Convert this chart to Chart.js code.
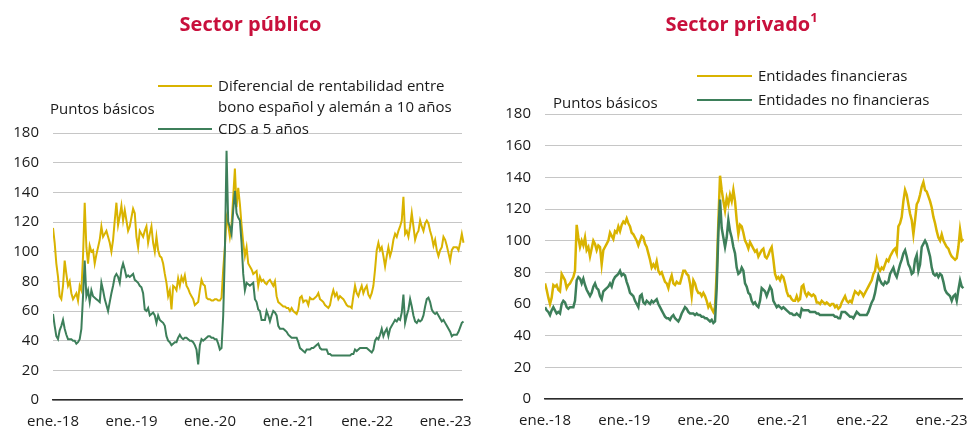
<!DOCTYPE html>
<html lang="es">
<head>
  <meta charset="UTF-8">
  <title>Sector público / Sector privado</title>
  <script src="https://cdn.jsdelivr.net/npm/chart.js"></script>
  <style>
    html, body {
      margin: 0; padding: 0;
      width: 970px; height: 428px;
      background: #fff; overflow: hidden;
      font-family: "Open Sans", sans-serif; color: #1a1a1a;
    }
    .panel { position: absolute; top: 0; width: 485px; height: 428px; }
    .panel canvas { position: absolute; left: 0; top: 0; }
    .title {
      position: absolute; top: 10px; width: 485px; text-align: center;
      font-size: 20px; font-weight: 700; color: #c8103c; line-height: 28px;
    }
    .title sup { font-size: 13px; line-height: 0; vertical-align: 9px; }
    .txt { position: absolute; font-size: 15px; line-height: 21px; white-space: nowrap; }
    .swatch { position: absolute; height: 2px; }
  </style>
</head>
<body>
  <!-- Sector público -->
  <div class="panel" style="left:0">
    <canvas id="chartPub" width="485" height="428"></canvas>
    <div class="title" style="left:8px">Sector público</div>
    <div class="txt" style="left:50px; top:98px">Puntos básicos</div>
    <div class="swatch" style="left:158px; top:85px; width:54px; background:#d9b300"></div>
    <div class="txt" style="left:218px; top:75px">Diferencial de rentabilidad entre<br>bono español y alemán a 10 años</div>
    <div class="swatch" style="left:158px; top:128px; width:54px; background:#3d7f5a"></div>
    <div class="txt" style="left:218px; top:118px">CDS a 5 años</div>
  </div>

  <!-- Sector privado -->
  <div class="panel" style="left:485px">
    <canvas id="chartPriv" width="485" height="428"></canvas>
    <div class="title" style="left:14px">Sector privado<sup>1</sup></div>
    <div class="txt" style="left:68px; top:92px">Puntos básicos</div>
    <div class="swatch" style="left:212px; top:75px; width:55px; background:#d9b300"></div>
    <div class="txt" style="left:273px; top:65px">Entidades financieras</div>
    <div class="swatch" style="left:212px; top:99px; width:55px; background:#3d7f5a"></div>
    <div class="txt" style="left:273px; top:89px">Entidades no financieras</div>
  </div>

  <script>
    // x ticks: 1 January of each year, counted in days from 1 Jan 2018
    const tickLabels = ['ene.-18', 'ene.-19', 'ene.-20', 'ene.-21', 'ene.-22', 'ene.-23'];
    const tickDays = [0, 365, 730, 1096, 1461, 1826];
    const yTicks = [0, 20, 40, 60, 80, 100, 120, 140, 160, 180];

    // Sector público: values read roughly every 7.76 days from 1 Jan 2018
    const pubStepDays = 7.76;
    const pubSpread = [
      116,106,92,83,70,68,77,94,85,77,
      80,72,68,70,72,67,77,74,97,133,
      103,92,104,100,101,92,98,103,108,117,
      110,112,114,110,106,100,108,121,133,118,
      124,131,121,128,121,114,117,123,129,126,
      110,103,114,112,110,114,117,106,112,117,
      106,100,110,101,97,96,92,85,79,70,
      74,61,77,76,74,82,77,83,80,84,
      77,75,72,70,68,64,65,66,74,81,
      78,77,69,68,68,67,67,68,68,67,
      67,69,88,103,123,118,110,118,137,156,
      130,143,132,118,106,97,103,92,90,88,
      85,86,87,77,83,80,81,79,78,80,
      81,79,77,80,70,66,65,64,63,63,
      62,62,60,62,60,59,58,61,69,70,
      66,67,67,64,69,68,68,69,70,72,
      68,67,66,64,63,62,64,70,74,70,
      72,68,70,69,68,66,64,63,63,62,
      70,77,72,70,74,77,72,75,77,71,
      69,72,77,88,101,106,101,103,97,90,
      97,103,97,101,108,112,110,114,117,121,
      137,112,114,110,117,126,117,108,112,114,
      121,117,114,119,121,119,114,110,104,108,
      101,97,101,103,110,108,104,99,94,101,
      103,103,103,101,106,112,106,104
    ];
    const pubCds = [
      58,50,43,41,47,50,54,48,44,41,
      41,41,40,40,38,39,41,48,70,94,
      70,74,66,74,70,69,68,67,66,79,
      74,68,64,60,66,72,77,83,85,83,
      79,88,92,88,83,84,83,84,85,81,
      80,79,77,76,72,61,60,62,57,58,
      59,57,52,57,54,53,52,50,43,40,
      39,37,38,39,39,42,44,42,41,42,
      42,41,40,40,39,37,34,24,37,41,
      40,41,42,43,43,42,42,41,41,38,
      34,35,57,100,168,120,117,112,128,141,
      126,123,121,106,85,74,79,78,77,78,
      79,68,66,61,60,54,54,54,60,57,
      53,57,60,59,57,50,48,48,48,47,
      46,44,43,42,42,42,42,39,35,34,
      33,32,34,34,34,35,35,36,37,38,
      35,34,34,34,34,31,31,30,30,30,
      30,30,30,30,30,30,30,30,30,31,
      31,34,33,34,35,35,35,35,35,34,
      33,32,34,40,42,41,44,48,43,46,
      48,43,48,50,52,54,53,55,54,59,
      71,52,57,61,68,63,57,53,52,54,
      53,54,57,63,68,69,66,61,59,58,
      59,57,55,53,54,52,50,48,46,43,
      44,44,44,46,49,52,53,51
    ];

    // Sector privado: values read roughly every 7.675 days from 1 Jan 2018
    const privStepDays = 7.675;
    const privFin = [
      73,69,64,60,64,72,71,72,69,68,
      79,77,75,70,72,73,75,77,81,110,
      102,96,100,97,102,94,96,90,95,100,
      98,94,97,96,85,94,96,98,100,105,
      103,101,106,105,109,106,110,112,111,114,
      111,109,105,104,102,100,97,100,103,102,
      98,96,92,88,83,85,83,87,81,79,
      80,77,74,73,70,75,78,73,72,74,
      73,73,77,81,81,79,78,73,65,75,
      73,69,67,67,65,67,65,62,58,60,
      57,55,58,80,112,141,132,125,119,127,
      123,129,125,132,125,113,104,110,109,105,
      100,98,95,99,97,95,93,94,90,92,
      94,95,90,89,91,94,96,88,79,76,
      77,75,78,77,73,68,65,65,63,62,
      62,65,62,63,71,72,67,65,67,66,
      65,66,65,61,61,60,62,61,60,61,
      60,59,60,60,58,59,57,58,61,63,
      65,62,61,62,61,65,68,67,66,68,
      67,65,67,69,71,73,75,79,81,88,
      83,81,83,82,85,88,87,90,92,94,
      95,92,109,111,115,125,132,129,123,117,
      113,104,113,123,125,129,134,137,132,131,
      128,125,121,115,111,106,102,100,104,100,
      98,96,95,92,90,89,88,89,96,107,
      100,101,101
    ];
    const privNoFin = [
      58,56,55,53,56,58,56,54,55,54,
      60,62,61,58,57,58,58,58,62,75,
      77,76,73,76,72,69,67,65,67,71,
      73,70,69,65,63,68,69,70,71,73,
      71,75,77,78,79,81,78,79,78,74,
      71,67,66,65,62,60,58,65,66,61,
      60,62,61,60,62,61,62,63,60,58,
      56,54,52,51,51,50,52,53,51,50,
      49,51,54,56,58,57,55,54,54,54,
      53,54,53,53,52,52,51,51,50,49,
      50,48,49,70,105,126,108,102,96,102,
      113,106,102,96,92,83,79,80,83,81,
      73,71,67,66,62,60,61,59,58,62,
      70,69,68,65,68,71,69,62,60,58,
      59,58,57,58,57,56,55,54,54,53,
      53,54,53,52,57,56,56,56,56,55,
      55,55,55,54,54,53,53,53,53,53,
      53,53,53,53,52,52,51,51,55,55,
      55,54,53,52,52,51,53,55,54,53,
      53,53,53,53,55,58,61,63,67,73,
      78,75,73,72,74,73,74,79,81,83,
      79,77,81,85,88,92,94,90,85,83,
      79,80,88,91,81,85,96,98,100,98,
      94,90,83,79,78,79,77,79,78,74,
      69,67,66,65,62,65,66,62,69,75,
      71,70,68
    ];

    const YELLOW = '#d9b300';
    const GREEN = '#3d7f5a';
    const FONT = { family: '"Open Sans", sans-serif', size: 15 };

    function toPoints(values, step) {
      return values.map((v, i) => ({ x: i * step, y: v }));
    }

    // fixed axis sizes so the plot box lands where the original has it
    function noAutoPadding(s) {
      s.paddingLeft = 0; s.paddingRight = 0;
      s.paddingTop = 0; s.paddingBottom = 0;
    }

    function makeChart(id, yellowVals, greenVals, step, xMax, pad, xHeight, lw) {
      return new Chart(document.getElementById(id), {
        type: 'line',
        data: {
          datasets: [
            { data: toPoints(greenVals, step), borderColor: GREEN },
            { data: toPoints(yellowVals, step), borderColor: YELLOW }
          ]
        },
        options: {
          responsive: false,
          animation: false,
          devicePixelRatio: 1,
          layout: { padding: pad },
          elements: {
            point: { radius: 0 },
            line: { borderWidth: lw, tension: 0 }
          },
          datasets: { line: { clip: { left: 0, right: 6, top: 10, bottom: 0 } } },
          plugins: { legend: { display: false }, tooltip: { enabled: false } },
          scales: {
            x: {
              type: 'linear', min: 0, max: xMax,
              afterFit: s => { s.height = xHeight; noAutoPadding(s); },
              afterBuildTicks: s => { s.ticks = tickDays.map(d => ({ value: d })); },
              grid: { display: false, drawTicks: false },
              border: { display: true, color: '#2b2b2b', width: 1.5 },
              ticks: {
                color: '#1a1a1a', font: FONT, padding: 13, maxRotation: 0,
                autoSkip: false,
                callback: v => tickLabels[tickDays.indexOf(v)]
              }
            },
            y: {
              min: 0, max: 180,
              afterFit: s => { s.width = 40; noAutoPadding(s); },
              afterBuildTicks: s => { s.ticks = yTicks.map(v => ({ value: v })); },
              grid: { color: '#c6c6c6', lineWidth: 1, drawTicks: false },
              border: { display: false },
              ticks: { color: '#1a1a1a', font: FONT, padding: 14 }
            }
          }
        }
      });
    }

    makeChart('chartPub', pubSpread, pubCds, pubStepDays, 1902,
      { top: 133, left: 13, right: 23, bottom: 0 }, 28, 2);
    makeChart('chartPriv', privFin, privNoFin, privStepDays, 1920,
      { top: 114, left: 20, right: 8, bottom: 0 }, 29, 2.5);
  </script>
</body>
</html>
